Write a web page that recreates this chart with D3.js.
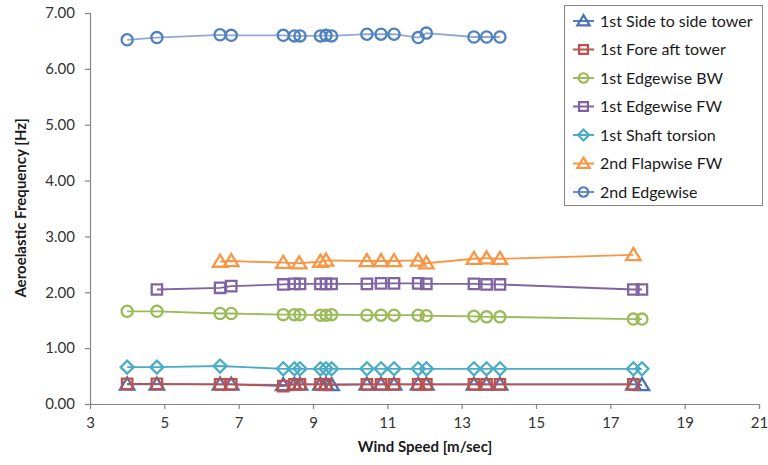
<!DOCTYPE html>
<html><head><meta charset="utf-8">
<script src="https://cdn.jsdelivr.net/npm/d3@7"></script>
<style>body{margin:0;background:#fff}svg{display:block}</style>
</head><body><svg id="c" width="768" height="465"></svg>
<script>
// ---- data ----
const seriesNames = ["1st Side to side tower","1st Fore aft tower","1st Edgewise BW","1st Edgewise FW","1st Shaft torsion","2nd Flapwise FW","2nd Edgewise"];
const sideToSideX = [4.0,4.8,6.5,6.8,8.2,8.5,8.65,9.2,9.35,9.5,10.45,10.83,11.18,11.83,12.05,13.33,13.67,14.03,17.62,17.85];
const sideToSideY = [0.35,0.35,0.35,0.35,0.34,0.35,0.35,0.35,0.35,0.34,0.35,0.35,0.35,0.35,0.35,0.35,0.35,0.35,0.35,0.34];
const foreAftX = [4.0,4.8,6.5,6.8,8.2,8.5,8.65,9.2,9.35,10.45,10.83,11.18,11.83,12.05,13.33,13.67,14.03,17.62];
const foreAftY = [0.36,0.36,0.35,0.35,0.32,0.35,0.35,0.35,0.35,0.35,0.35,0.35,0.35,0.35,0.35,0.35,0.35,0.35];
const edgeBWX = [4.0,4.8,6.5,6.8,8.2,8.5,8.65,9.2,9.35,9.5,10.45,10.83,11.18,11.83,12.05,13.33,13.67,14.03,17.62,17.85];
const edgeBWY = [1.66,1.66,1.62,1.62,1.60,1.60,1.60,1.59,1.59,1.60,1.59,1.59,1.59,1.59,1.58,1.57,1.56,1.56,1.52,1.52];
const edgeFWX = [4.8,6.5,6.8,8.2,8.5,8.65,9.2,9.35,9.5,10.45,10.83,11.18,11.83,12.05,13.33,13.67,14.03,17.62,17.85];
const edgeFWY = [2.05,2.08,2.11,2.14,2.15,2.15,2.15,2.15,2.15,2.15,2.16,2.16,2.16,2.15,2.15,2.14,2.14,2.05,2.05];
const shaftX = [4.0,4.8,6.5,8.2,8.5,8.65,9.2,9.35,9.5,10.45,10.83,11.18,11.83,12.05,13.33,13.67,14.03,17.62,17.85];
const shaftY = [0.66,0.66,0.68,0.63,0.63,0.63,0.63,0.63,0.63,0.63,0.63,0.63,0.63,0.63,0.63,0.63,0.63,0.63,0.63];
const flapFWX = [6.5,6.8,8.2,8.63,9.2,9.35,10.45,10.83,11.18,11.83,12.05,13.33,13.67,14.03,17.62];
const flapFWY = [2.55,2.56,2.53,2.52,2.55,2.57,2.56,2.56,2.56,2.57,2.52,2.60,2.61,2.60,2.67];
const edge2X = [4.0,4.8,6.5,6.8,8.2,8.5,8.65,9.2,9.35,9.5,10.45,10.83,11.18,11.83,12.05,13.33,13.67,14.03];
const edge2Y = [6.52,6.56,6.61,6.60,6.60,6.59,6.59,6.59,6.60,6.59,6.62,6.62,6.62,6.56,6.64,6.57,6.57,6.57];
const xTicks = [3,5,7,9,11,13,15,17,19,21];
const yTicks = [0,1,2,3,4,5,6,7];

const xs = [sideToSideX,foreAftX,edgeBWX,edgeFWX,shaftX,flapFWX,edge2X];
const ys = [sideToSideY,foreAftY,edgeBWY,edgeFWY,shaftY,flapFWY,edge2Y];
const markerColors = ["#4A72B4","#C0504D","#9BBB59","#8064A2","#4BACC6","#F79646","#4F81BD"];
const lineColors   = ["#4F81BD","#C0504D","#9BBB59","#8064A2","#4BACC6","#F79646","#8FA8D4"];
const shapes = ["triangle","square","circle","square","diamond","triangle","circle"];

// ---- layout ----
const svg = d3.select("#c");
const x = d3.scaleLinear().domain([3,21]).range([90,759]);
const y = d3.scaleLinear().domain([0,7]).range([404,13]);
const axisColor = "#868686";
const font = "Lato, 'Open Sans', sans-serif";

function shapePath(type, r){
  if(type==="circle") return `M${r},0A${r},${r} 0 1,1 ${-r},0A${r},${r} 0 1,1 ${r},0Z`;
  if(type==="square") return `M${-r},${-r}H${r}V${r}H${-r}Z`;
  if(type==="diamond") { const d=r*1.25; return `M0,${-d}L${d},0L0,${d}L${-d},0Z`; }
  if(type==="triangle") { const h=r*1.15; return `M0,${-h}L${h*1.05},${h*0.75}L${-h*1.05},${h*0.75}Z`; }
}
const sizes = {circle:5.6, square:5.2, diamond:5.2, triangle:6};

// axes
const gx = svg.append("g").attr("transform","translate(0,404)")
  .call(d3.axisBottom(x).tickValues(xTicks).tickSize(5).tickPadding(6).tickFormat(d3.format("d")));
const gy = svg.append("g").attr("transform","translate(90,0)")
  .call(d3.axisLeft(y).tickValues(yTicks).tickSize(5).tickPadding(10).tickFormat(d=>d.toFixed(2)));
[gx,gy].forEach(g=>{
  g.select(".domain").attr("stroke",axisColor).attr("stroke-width",1.2);
  g.selectAll(".tick line").attr("stroke",axisColor).attr("stroke-width",1.2);
  g.selectAll(".tick text").attr("fill","#333").style("font-family",font).style("font-size","15px");
});
gx.select(".domain").attr("d","M90.5,0.5H759.5V5");
gy.select(".domain").attr("d","M-5,13.5H0.5V404.5");
gx.selectAll(".tick text").attr("dy","0.85em");

// titles
svg.append("text").attr("x",425).attr("y",452).attr("text-anchor","middle")
  .style("font-family",font).style("font-size","15px").style("font-weight","bold").attr("fill","#1a1a1a")
  .text("Wind Speed [m/sec]");
svg.append("text").attr("transform","translate(26,208) rotate(-90)").attr("text-anchor","middle")
  .style("font-family",font).style("font-size","15px").style("font-weight","bold").attr("fill","#1a1a1a")
  .text("Aeroelastic Frequency [Hz]");

// series
const line = d3.line().x(d=>x(d[0])).y(d=>y(d[1]));
seriesNames.forEach((name,i)=>{
  const pts = xs[i].map((v,j)=>[v, ys[i][j]]);
  const g = svg.append("g");
  g.append("path").attr("d",line(pts)).attr("fill","none").attr("stroke",lineColors[i]).attr("stroke-width",1.8);
  g.selectAll("path.m").data(pts).join("path").attr("class","m")
    .attr("transform",d=>`translate(${x(d[0])},${y(d[1])})`)
    .attr("d",shapePath(shapes[i], sizes[shapes[i]]))
    .attr("fill","none").attr("stroke",markerColors[i]).attr("stroke-width",2.3);
});

// legend
const lg = svg.append("g");
lg.append("rect").attr("x",564.5).attr("y",5.5).attr("width",198).attr("height",200)
  .attr("fill","#fff").attr("stroke",axisColor).attr("stroke-width",1);
seriesNames.forEach((name,i)=>{
  const cy = 21 + i*28.5;
  lg.append("line").attr("x1",573).attr("x2",594).attr("y1",cy).attr("y2",cy)
    .attr("stroke",lineColors[i]==="#8FA8D4"?"#6F91C9":lineColors[i]).attr("stroke-width",2);
  lg.append("path").attr("transform",`translate(583.5,${cy})`).attr("d",shapePath(shapes[i], sizes[shapes[i]]*0.85))
    .attr("fill","none").attr("stroke",markerColors[i]).attr("stroke-width",2.2);
  lg.append("text").attr("x",600).attr("y",cy).attr("dy","0.36em")
    .style("font-family",font).style("font-size","16px").attr("fill","#1a1a1a").text(name);
});
</script></body></html>
